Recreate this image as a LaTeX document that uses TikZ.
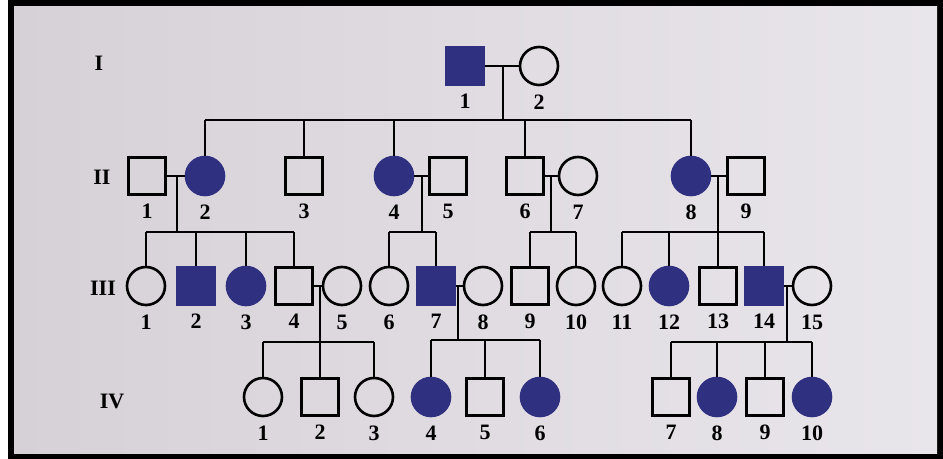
\documentclass[tikz,border=0pt]{standalone}
\usepackage{fontspec}
\setmainfont{Liberation Serif}
\definecolor{affblue}{RGB}{48,48,128}
\definecolor{paper}{RGB}{233,230,235}
\definecolor{paperdark}{RGB}{214,209,215}

\begin{document}
\begin{tikzpicture}[
  x=0.5pt, y=-0.5pt,
  font=\fontsize{11}{13}\selectfont\bfseries,
  line width=1.3pt,
  male/.style = {rectangle, draw=black, minimum size=18.5pt, inner sep=0pt},
  female/.style = {circle, draw=black, minimum size=19pt, inner sep=0pt},
  aff/.style = {fill=affblue, draw=affblue},
  gen/.style = {inner sep=0pt},
  every label/.style = {inner sep=0pt},
  label distance=3.5pt,
]
  \useasboundingbox (0,0) rectangle (943,459);
  \fill[white] (0,0) rectangle (943,459);
  \fill[black] (8,0) rectangle (943,459);
  \shade[left color=paperdark, middle color=paper, right color=paper] (14,7) rectangle (937,454);

  % generations
  \node[gen] (g1) at (99,63)  {I};
  \node[gen] (g2) at (102,177) {II};
  \node[gen] (g3) at (103,288) {III};
  \node[gen] (g4) at (112,401) {IV};

  % I
  \node[male, aff, label=below:1] (i1) at (465,66) {};
  \node[female, label=below:2]    (i2) at (539,66) {};

  % II
  \node[male, label=below:1]        (ii1) at (147,176) {};
  \node[female, aff, label=below:2] (ii2) at (205,176) {};
  \node[male, label=below:3]        (ii3) at (304,176) {};
  \node[female, aff, label=below:4] (ii4) at (394,176) {};
  \node[male, label=below:5]        (ii5) at (448,176) {};
  \node[male, label=below:6]        (ii6) at (525,176) {};
  \node[female, label=below:7]      (ii7) at (578,176) {};
  \node[female, aff, label=below:8] (ii8) at (691,176) {};
  \node[male, label=below:9]        (ii9) at (746,176) {};

  % III
  \node[female, label=below:1]       (iii1)  at (146,286) {};
  \node[male, aff, label=below:2]    (iii2)  at (196,286) {};
  \node[female, aff, label=below:3]  (iii3)  at (246,286) {};
  \node[male, label=below:4]         (iii4)  at (294,286) {};
  \node[female, label=below:5]       (iii5)  at (342,286) {};
  \node[female, label=below:6]       (iii6)  at (389,286) {};
  \node[male, aff, label=below:7]    (iii7)  at (436,286) {};
  \node[female, label=below:8]       (iii8)  at (483,286) {};
  \node[male, label=below:9]         (iii9)  at (530,286) {};
  \node[female, label=below:10]      (iii10) at (576,286) {};
  \node[female, label=below:11]      (iii11) at (622,286) {};
  \node[female, aff, label=below:12] (iii12) at (669,286) {};
  \node[male, label=below:13]        (iii13) at (718,286) {};
  \node[male, aff, label=below:14]   (iii14) at (764,286) {};
  \node[female, label=below:15]      (iii15) at (812,286) {};

  % IV
  \node[female, label=below:1]       (iv1)  at (263,397) {};
  \node[male, label=below:2]         (iv2)  at (320,397) {};
  \node[female, label=below:3]       (iv3)  at (374,397) {};
  \node[female, aff, label=below:4]  (iv4)  at (431,397) {};
  \node[male, label=below:5]         (iv5)  at (485,397) {};
  \node[female, aff, label=below:6]  (iv6)  at (540,397) {};
  \node[male, label=below:7]         (iv7)  at (671,397) {};
  \node[female, aff, label=below:8]  (iv8)  at (717,397) {};
  \node[male, label=below:9]         (iv9)  at (765,397) {};
  \node[female, aff, label=below:10] (iv10) at (812,397) {};

  % couples
  \draw (i1) -- (i2);
  \draw (ii1) -- (ii2);
  \draw (ii4) -- (ii5);
  \draw (ii6) -- (ii7);
  \draw (ii8) -- (ii9);
  \draw (iii4) -- (iii5);
  \draw (iii7) -- (iii8);
  \draw (iii14) -- (iii15);

  % descent lines
  \coordinate (m0) at (503,66);  \coordinate (s0) at (503,120);
  \coordinate (m1) at (177,176); \coordinate (s1) at (177,232);
  \coordinate (m2) at (422,176); \coordinate (s2) at (422,232);
  \coordinate (m3) at (551,176); \coordinate (s3) at (551,232);
  \coordinate (m4) at (718,176); \coordinate (s4) at (718,232);
  \coordinate (m5) at (320,286); \coordinate (s5) at (320,342);
  \coordinate (m6) at (458,286); \coordinate (s6) at (458,340);
  \coordinate (m7) at (787,286); \coordinate (s7) at (787,342);
  \foreach \k in {0,...,7} \draw (m\k) -- (s\k);

  % sibships
  \draw (ii2 |- s0) -- (ii8 |- s0);
  \foreach \c in {ii2,ii3,ii4,ii6,ii8} \draw (\c) -- (\c |- s0);
  \draw (iii1 |- s1) -- (iii4 |- s1);
  \foreach \c in {iii1,iii2,iii3,iii4} \draw (\c) -- (\c |- s1);
  \draw (iii6 |- s2) -- (iii7 |- s2);
  \foreach \c in {iii6,iii7} \draw (\c) -- (\c |- s2);
  \draw (iii9 |- s3) -- (iii10 |- s3);
  \foreach \c in {iii9,iii10} \draw (\c) -- (\c |- s3);
  \draw (iii11 |- s4) -- (iii14 |- s4);
  \foreach \c in {iii11,iii12,iii13,iii14} \draw (\c) -- (\c |- s4);
  \draw (iv1 |- s5) -- (iv3 |- s5);
  \foreach \c in {iv1,iv2,iv3} \draw (\c) -- (\c |- s5);
  \draw (iv4 |- s6) -- (iv6 |- s6);
  \foreach \c in {iv4,iv5,iv6} \draw (\c) -- (\c |- s6);
  \draw (iv7 |- s7) -- (iv10 |- s7);
  \foreach \c in {iv7,iv8,iv9,iv10} \draw (\c) -- (\c |- s7);
\end{tikzpicture}
\end{document}
